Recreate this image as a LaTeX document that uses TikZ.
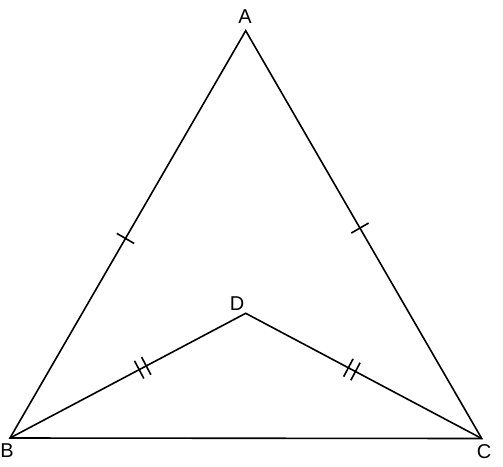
\documentclass[tikz,border=0pt]{standalone}
\usepackage{fontspec}
\setmainfont{Liberation Sans}
\usetikzlibrary{calc}
\begin{document}
\begin{tikzpicture}[x=1pt,y=-1pt,
  edge/.style={line width=1.6pt,line cap=round,line join=miter},
  lbl/.style={font=\fontsize{20}{20}\selectfont,inner sep=0pt},
  tick/.style={line width=1.6pt}]
\useasboundingbox (0,0) rectangle (503,466);
\coordinate (A) at (245.7,30.7);
\coordinate (B) at (10,438);
\coordinate (C) at (481.7,438.5);
\coordinate (D) at (245.7,313.3);
\draw[edge] (B) -- (A) -- (C) -- cycle;
\draw[edge] (B) -- (D) -- (C);
\node[lbl] (lA) at (245,17) {A};
\node[lbl] (lB) at (7,451) {B};
\node[lbl] (lC) at (484,452) {C};
\node[lbl] (lD) at (237,304) {D};
% single ticks
\draw[tick] ($(B)!0.49!(A)!10pt!90:(A)$) -- ($(B)!0.49!(A)!10pt!-90:(A)$);
\draw[tick] ($(C)!0.516!(A)!10pt!90:(A)$) -- ($(C)!0.516!(A)!10pt!-90:(A)$);
% double ticks
\foreach \t in {0.548,0.578}{
  \draw[tick] ($(B)!\t!(D)!10pt!90:(D)$) -- ($(B)!\t!(D)!10pt!-90:(D)$);
}
\foreach \t in {0.535,0.565}{
  \draw[tick] ($(C)!\t!(D)!10pt!90:(D)$) -- ($(C)!\t!(D)!10pt!-90:(D)$);
}
\end{tikzpicture}
\end{document}
